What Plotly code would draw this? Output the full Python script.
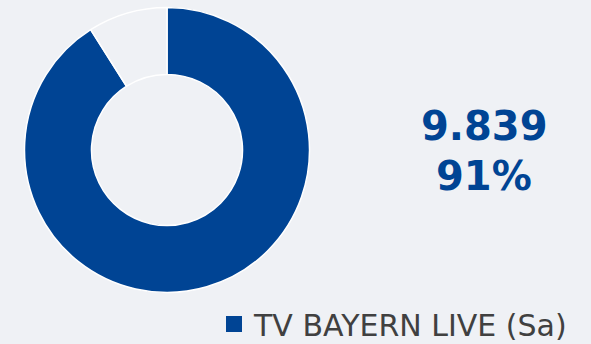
import plotly.graph_objects as go

labels = ["TV BAYERN LIVE (Sa)", "Rest"]
values = [9839, 973]
colors = ["#004494", "#eff1f5"]

total = sum(values)
share = round(values[0] / total * 100)
value_text = f"{values[0]:,}".replace(",", ".")

W, H = 591, 344
cx, cy, r = 167, 150, 142.5
BG = "#eff1f5"

fig = go.Figure()
fig.add_trace(go.Pie(
    labels=labels, values=values, sort=False, direction="clockwise", rotation=0,
    hole=0.53, textinfo="none", hoverinfo="label+value+percent",
    marker=dict(colors=colors, line=dict(color="white", width=1.5)),
    domain=dict(x=[(cx - r) / W, (cx + r) / W], y=[(H - cy - r) / H, (H - cy + r) / H]),
    showlegend=False,
))
# legend entry for the main series
fig.add_trace(go.Scatter(
    x=[None], y=[None], mode="markers", name=labels[0],
    marker=dict(symbol="square", size=16, color=colors[0]),
    showlegend=True, hoverinfo="skip",
))

num_font = dict(family="DejaVu Sans", size=40, color=colors[0])
fig.add_annotation(x=484 / W, y=(H - 126) / H, xref="paper", yref="paper", showarrow=False,
                   xanchor="center", yanchor="middle",
                   text=f"<b>{value_text}</b>", font=num_font)
fig.add_annotation(x=484 / W, y=(H - 176) / H, xref="paper", yref="paper", showarrow=False,
                   xanchor="center", yanchor="middle",
                   text=f"<b>{share}%</b>", font=num_font)

fig.update_layout(
    width=W, height=H,
    margin=dict(l=0, r=0, t=0, b=0, autoexpand=False),
    paper_bgcolor=BG, plot_bgcolor=BG,
    xaxis=dict(visible=False), yaxis=dict(visible=False),
    legend=dict(x=(257 - 43) / W, xanchor="left", y=-6 / H, yanchor="bottom", bgcolor="rgba(0,0,0,0)",
                font=dict(family="DejaVu Sans", size=30, color="#404040"),
                itemwidth=30),
    font=dict(family="DejaVu Sans"),
)

fig.write_html("out.html", config={"displayModeBar": False},
               post_script="document.body.style.margin='0';document.body.style.background='%s';" % BG)
